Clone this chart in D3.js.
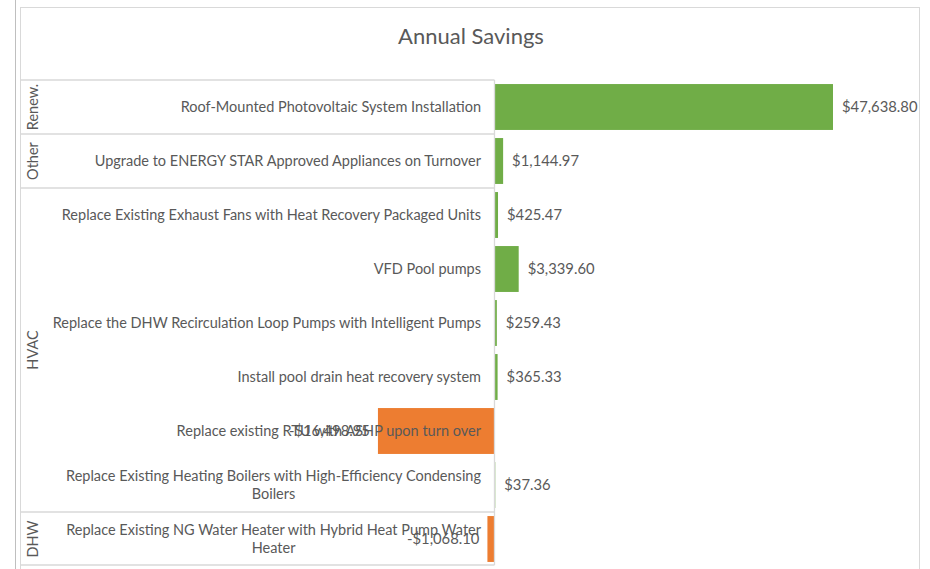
<!DOCTYPE html>
<html>
<head>
<meta charset="utf-8">
<script src="https://cdn.jsdelivr.net/npm/d3@7"></script>
<style>
  body { margin: 0; background: #fff; }
  text { font-family: Lato, "Open Sans", sans-serif; fill: #595959; }
</style>
</head>
<body>
<script>
// data
const measures = [
  "Roof-Mounted Photovoltaic System Installation",
  "Upgrade to ENERGY STAR Approved Appliances on Turnover",
  "Replace Existing Exhaust Fans with Heat Recovery Packaged Units",
  "VFD Pool pumps",
  "Replace the DHW Recirculation Loop Pumps with Intelligent Pumps",
  "Install pool drain heat recovery system",
  "Replace existing RTU with ASHP upon turn over",
  "Replace Existing Heating Boilers with High-Efficiency Condensing Boilers",
  "Replace Existing NG Water Heater with Hybrid Heat Pump Water Heater"
];
const groups = ["Renew.", "Other", "HVAC", "HVAC", "HVAC", "HVAC", "HVAC", "HVAC", "DHW"];
const savings = [47638.80, 1144.97, 425.47, 3339.60, 259.43, 365.33, -16498.95, 37.36, -1068.10];

const width = 930, height = 569;
const svg = d3.select("body").append("svg")
  .attr("width", width)
  .attr("height", height);

// frame
svg.append("line").attr("x1", 15.5).attr("x2", 15.5).attr("y1", 0).attr("y2", height)
  .attr("stroke", "#bfbfbf");
svg.append("rect").attr("x", 20.5).attr("y", 7.5).attr("width", 899).attr("height", 580)
  .attr("fill", "none").attr("stroke", "#d9d9d9");

svg.append("text")
  .attr("x", 471).attr("y", 44)
  .attr("text-anchor", "middle")
  .style("font-size", "22px")
  .text("Annual Savings");

const y = d3.scaleBand()
  .domain(d3.range(measures.length))
  .range([80, 566])
  .paddingInner(0.15)
  .paddingOuter(0.075);
const step = y.step();
const rowTop = i => 80 + i * step;

const x = d3.scaleLinear()
  .domain([-20000, 50000])
  .range([353.1, 849.75]);

const colors = d => d >= 0 ? "#70AD47" : "#ED7D31";

// bars
svg.append("g").selectAll("rect")
  .data(savings)
  .join("rect")
  .attr("x", d => x(Math.min(0, d)))
  .attr("width", d => Math.abs(x(d) - x(0)))
  .attr("y", (d, i) => y(i))
  .attr("height", y.bandwidth())
  .attr("fill", colors);

// category table lines (only at group boundaries)
const groupSpans = [];
groups.forEach((g, i) => {
  const last = groupSpans[groupSpans.length - 1];
  if (last && last.name === g) last.end = i;
  else groupSpans.push({ name: g, start: i, end: i });
});

const grid = svg.append("g").attr("stroke", "#d9d9d9").attr("stroke-width", 1.3);
groupSpans.forEach(s => {
  grid.append("line").attr("x1", 20).attr("x2", 494.5)
    .attr("y1", rowTop(s.start)).attr("y2", rowTop(s.start));
});
grid.append("line").attr("x1", 20).attr("x2", 494.5)
  .attr("y1", rowTop(measures.length) - 1).attr("y2", rowTop(measures.length) - 1);
grid.append("line").attr("x1", 494.5).attr("x2", 494.5)
  .attr("y1", 80).attr("y2", rowTop(measures.length) - 1);

// group labels
svg.append("g").selectAll("text")
  .data(groupSpans)
  .join("text")
  .attr("transform", s => {
    const cy = (rowTop(s.start) + rowTop(s.end + 1)) / 2;
    return "translate(38," + cy + ") rotate(-90)";
  })
  .attr("text-anchor", "middle")
  .style("font-size", "14.5px")
  .text(s => s.name);

// measure labels, wrapped to two lines when too long
const labelG = svg.append("g");
measures.forEach((m, i) => {
  const cy = y(i) + y.bandwidth() / 2;
  const t = labelG.append("text")
    .attr("x", 481)
    .attr("text-anchor", "end")
    .style("font-size", "14.5px");
  t.text(m);
  let lines = [m];
  if (t.node().getComputedTextLength() > 430) {
    const words = m.split(" ");
    let first = [];
    t.text("");
    for (let k = 0; k < words.length; k++) {
      t.text(first.concat(words[k]).join(" "));
      if (t.node().getComputedTextLength() > 430) break;
      first.push(words[k]);
    }
    lines = [first.join(" "), words.slice(first.length).join(" ")];
  }
  t.text("");
  if (lines.length === 1) {
    t.append("tspan").attr("x", 481).attr("y", cy + 5).text(lines[0]);
  } else {
    const a = t.append("tspan").attr("x", 481).attr("y", cy - 4).text(lines[0]);
    const w1 = a.node().getComputedTextLength();
    // second line is centred under the first
    t.append("tspan").attr("x", 481 - w1 / 2).attr("y", cy + 14)
      .attr("text-anchor", "middle").text(lines[1]);
  }
});

// value labels
const fmt = d => (d < 0 ? "-$" : "$") + d3.format(",.2f")(Math.abs(d));
svg.append("g").selectAll("text")
  .data(savings)
  .join("text")
  .attr("x", d => d >= 0 ? x(d) + 9 : x(d) - 8)
  .attr("y", (d, i) => y(i) + y.bandwidth() / 2 + 5)
  .attr("text-anchor", d => d >= 0 ? "start" : "end")
  .style("font-size", "14.8px")
  .text(fmt);
</script>
</body>
</html>
